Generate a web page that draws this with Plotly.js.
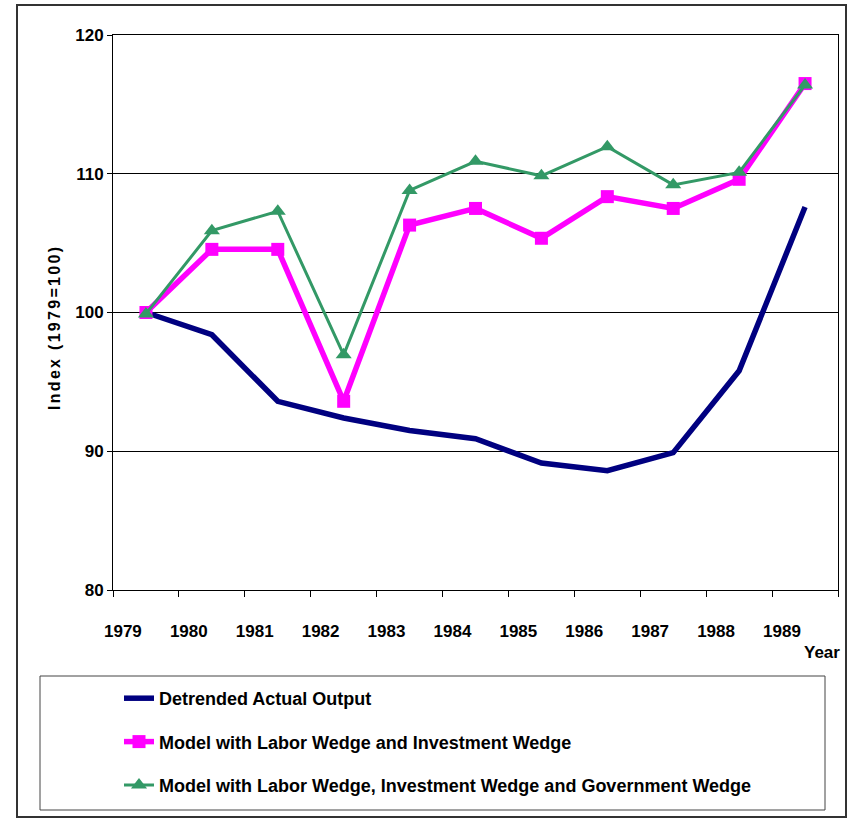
<!DOCTYPE html>
<html>
<head>
<meta charset="utf-8">
<script src="https://cdn.plot.ly/plotly-3.0.1.min.js"></script>
<style>
html,body{margin:0;padding:0;background:#fff;}
#chart{width:855px;height:818px;}
[data-unformatted="Index (1979=100)"]{letter-spacing:2.3px;}
</style>
</head>
<body>
<div id="chart"></div>
<script>
// Data
const years = [1979, 1980, 1981, 1982, 1983, 1984, 1985, 1986, 1987, 1988, 1989];
const yearLabels = ["1979","1980","1981","1982","1983","1984","1985","1986","1987","1988","1989"];
const detrendedActual = [100, 98.4, 93.6, 92.4, 91.5, 90.9, 89.15, 88.6, 89.9, 95.8, 107.6];
const modelLaborInvest = [100, 104.55, 104.55, 93.6, 106.3, 107.5, 105.35, 108.35, 107.5, 109.6, 116.5];
const modelLaborInvestGov = [99.9, 105.9, 107.3, 96.95, 108.8, 110.9, 109.85, 111.95, 109.2, 110.1, 116.4];
const seriesNames = ["Detrended Actual Output", "Model with Labor Wedge and Investment Wedge", "Model with Labor Wedge, Investment Wedge and Government Wedge"];
const yTicks = [80, 90, 100, 110, 120];
const yTitle = "Index (1979=100)";
const xTitle = "Year";

const FONT = '"Liberation Sans", Arial, sans-serif';
const boundaries = years.map(y => y - 0.5).concat([years[years.length - 1] + 0.5]);
const labelPos = years.map(y => y - 0.35);
const xr = [years[0] - 0.5, years[years.length - 1] + 0.5];

const traces = [
  {x: years, y: detrendedActual, name: seriesNames[0], mode: 'lines', legendgroup: 'a',
   line: {color: '#000080', width: 5.5}},
  {x: years, y: modelLaborInvest, name: seriesNames[1], mode: 'lines+markers', legendgroup: 'b',
   line: {color: '#FF00FF', width: 5.5}, marker: {symbol: 'square', size: 13, color: '#FF00FF'}},
  {x: years, y: modelLaborInvestGov, name: seriesNames[2], mode: 'lines+markers', legendgroup: 'c',
   line: {color: '#339966', width: 3}, marker: {symbol: 'triangle-up', size: 14, color: '#339966'}},
  {x: [years[0]], y: [null], xaxis: 'x2', showlegend: false, hoverinfo: 'skip', mode: 'lines'}
];

const L = 113, R = 838, T = 35, B = 590;
const W = R - L, H = B - T;
const px = v => (v - L) / W;
const py = v => 1 - (v - T) / H;

const layout = {
  width: 855, height: 818,
  margin: {l: L, r: 855 - R, t: T, b: 818 - B},
  paper_bgcolor: '#fff', plot_bgcolor: '#fff',
  font: {family: FONT, color: '#000', size: 16},
  showlegend: true,
  xaxis: {
    range: xr, tickvals: boundaries, showticklabels: false,
    ticks: 'outside', ticklen: 6, tickcolor: '#000', tickwidth: 1,
    showline: true, linecolor: '#000', linewidth: 1, mirror: true,
    showgrid: false, zeroline: false, fixedrange: true
  },
  xaxis2: {
    overlaying: 'x', anchor: 'y', side: 'bottom', range: xr,
    tickvals: labelPos, ticktext: yearLabels, ticks: '', showline: false,
    showgrid: false, zeroline: false, ticklabelstandoff: 29,
    tickfont: {family: FONT, size: 17, color: '#000', weight: 'bold'}
  },
  yaxis: {
    range: [80, 120], tickvals: yTicks, ticks: 'outside', ticklen: 5, tickcolor: '#000',
    showline: true, linecolor: '#000', linewidth: 1, mirror: true,
    showgrid: true, gridcolor: '#000', gridwidth: 1, zeroline: false,
    tickfont: {family: FONT, size: 17, color: '#000', weight: 'bold'}
  },
  legend: {
    x: px(119), y: py(680), xanchor: 'left', yanchor: 'top',
    traceorder: 'grouped', tracegroupgap: 17,
    bgcolor: 'rgba(0,0,0,0)', borderwidth: 0,
    font: {family: FONT, size: 18, color: '#000', weight: 'bold'}
  },
  annotations: [
    {text: xTitle, xref: 'paper', yref: 'paper', x: px(842), y: py(652), xanchor: 'right', yanchor: 'middle',
     showarrow: false, font: {family: FONT, size: 17, color: '#000', weight: 'bold'}},
    {text: yTitle, xref: 'paper', yref: 'paper', x: px(54), y: py(328), xanchor: 'center', yanchor: 'middle',
     textangle: -90, showarrow: false, font: {family: FONT, size: 16, color: '#000', weight: 'bold'}}
  ],
  shapes: [
    {type: 'rect', xref: 'paper', yref: 'paper', x0: px(17), x1: px(846), y0: py(5), y1: py(817),
     line: {color: '#333', width: 2}, layer: 'below'},
    {type: 'rect', xref: 'paper', yref: 'paper', x0: px(40), x1: px(825), y0: py(676), y1: py(810),
     line: {color: '#444', width: 1}, layer: 'below'}
  ]
};

Plotly.newPlot('chart', traces, layout, {displayModeBar: false, staticPlot: true});
</script>
</body>
</html>
